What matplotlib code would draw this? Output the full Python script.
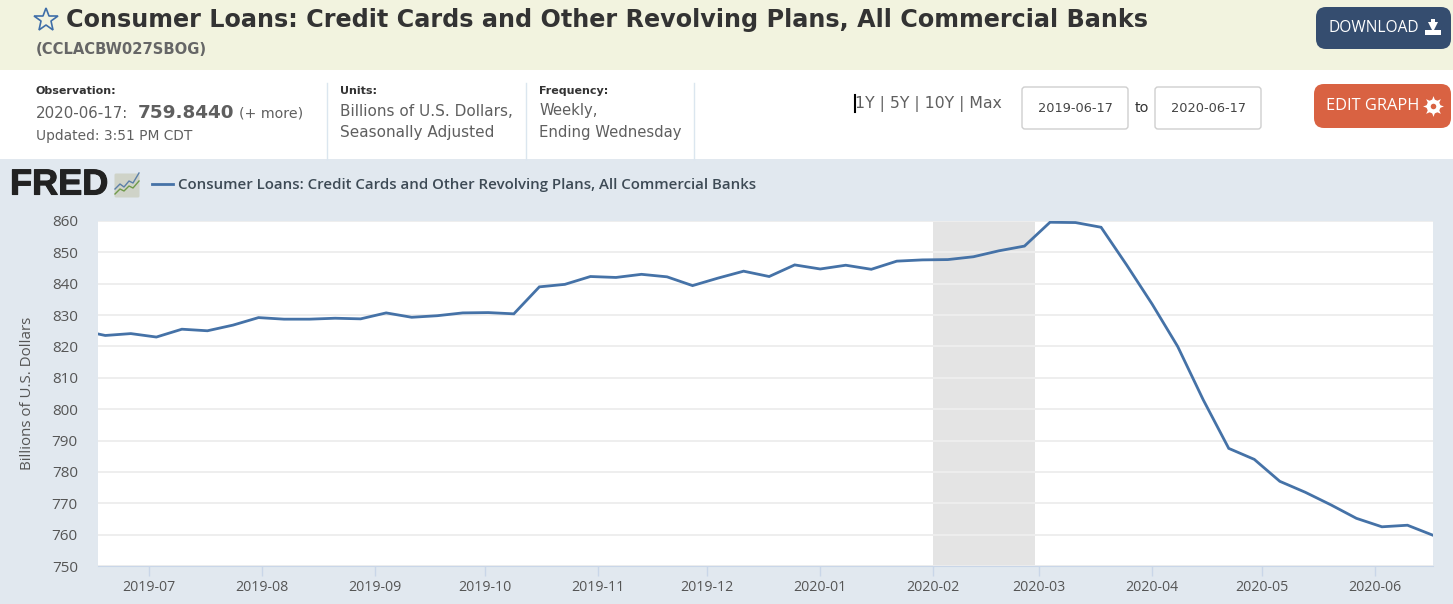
import numpy as np
import pandas as pd
import matplotlib
matplotlib.use('Agg')
import matplotlib.pyplot as plt
import matplotlib.dates as mdates
import matplotlib.patheffects as pe
from matplotlib.patches import FancyBboxPatch, Rectangle

# weekly values
dates = pd.date_range('2019-06-12', '2020-06-17', freq='7D')
values = [825.2, 823.5, 824.1, 823.0, 825.5, 825.0, 826.8, 829.2, 828.7, 828.7,
          829.0, 828.8, 830.7, 829.3, 829.8, 830.7, 830.8, 830.4, 839.0, 839.8,
          842.3, 842.0, 843.0, 842.2, 839.4, 841.8, 844.0, 842.3, 846.0, 844.7,
          845.9, 844.6, 847.2, 847.6, 847.7, 848.6, 850.5, 852.0, 859.6, 859.5,
          858.0, 846.0, 833.5, 820.0, 803.0, 787.5, 784.0, 777.0, 773.5, 769.5,
          765.2, 762.5, 763.0, 759.8]
recession = ['2020-02-01', '2020-02-29']
month_ticks = pd.date_range('2019-07-01', '2020-06-01', freq='MS')
y_ticks = list(range(750, 861, 10))
series_name = 'Consumer Loans: Credit Cards and Other Revolving Plans, All Commercial Banks'

W, H = 1453, 604
LINE = '#4572a7'
GREY = '#5f5f5f'

fig = plt.figure(figsize=(W / 100, H / 100), dpi=100, facecolor='white')

# page furniture, in pixel coordinates
bg = fig.add_axes([0, 0, 1, 1])
bg.set_xlim(0, W)
bg.set_ylim(H, 0)
bg.axis('off')
bg.add_patch(Rectangle((0, 0), W, 70, color='#f2f3df', lw=0))
bg.add_patch(Rectangle((0, 159), W, H - 159, color='#e1e8ef', lw=0))


def button(x, y, w, h, color, label, tx, size):
    bg.add_patch(FancyBboxPatch((x + 10, y + 10), w - 20, h - 20, boxstyle='round,pad=10',
                                fc=color, ec='none'))
    bg.text(tx, y + h / 2, label, color='white', fontsize=size, family='Open Sans',
            va='center', ha='left')


def date_box(x, label):
    bg.add_patch(FancyBboxPatch((x + 3, 90), 100, 36, boxstyle='round,pad=3',
                                fc='white', ec='#cfcfcf', lw=1))
    bg.text(x + 53, 108.5, label, color='#444444', fontsize=9.3, family='DejaVu Sans',
            ha='center', va='center')


bg.plot([46], [20], marker='*', ms=18, mfc='none', mec='#3f6ea8', mew=1.2)
bg.text(66, 20, 'Consumer Loans: Credit Cards and Other Revolving Plans, All Commercial Banks',
        fontsize=17.2, fontweight='bold', family='DejaVu Sans', color='#333333', va='center')
bg.text(36, 49, '(CCLACBW027SBOG)', fontsize=10.6, fontweight='bold', family='DejaVu Sans',
        color='#666666', va='center')

button(1316, 7, 135, 42, '#354d6f', 'DOWNLOAD', 1328, 11.2)
button(1314, 84, 137, 44, '#d96242', 'EDIT GRAPH', 1326, 11.8)
# download and gear icons
bg.add_patch(Rectangle((1431, 19), 4, 7, color='white', lw=0))
bg.plot([1433], [27], marker='v', ms=7, color='white', mew=0)
bg.add_patch(Rectangle((1425, 30), 16, 5, color='white', lw=0))
bg.plot([1433], [106], marker=(8, 1, 0), ms=15, color='white', mew=0)
bg.plot([1433], [106], marker='o', ms=10, color='white', mew=0)
bg.plot([1433], [106], marker='o', ms=4, color='#d96242', mew=0)

bg.text(36, 90.5, 'Observation:', fontsize=8, fontweight='bold', family='DejaVu Sans',
        color='#333333', va='center')
bg.text(36, 113, '2020-06-17:', fontsize=10.8, family='DejaVu Sans', color=GREY, va='center')
bg.text(138, 112.5, '759.8440', fontsize=13.2, fontweight='bold', family='DejaVu Sans',
        color=GREY, va='center')
bg.text(239, 113.5, '(+ more)', fontsize=10.2, family='DejaVu Sans', color=GREY, va='center')
bg.text(36, 136, 'Updated: 3:51 PM CDT', fontsize=9.95, family='DejaVu Sans', color=GREY, va='center')
bg.text(340, 90.5, 'Units:', fontsize=8, fontweight='bold', family='DejaVu Sans',
        color='#333333', va='center')
bg.text(340, 111, 'Billions of U.S. Dollars,', fontsize=10.95, family='DejaVu Sans', color=GREY, va='center')
bg.text(340, 132, 'Seasonally Adjusted', fontsize=10.95, family='DejaVu Sans', color=GREY, va='center')
bg.text(539, 90.5, 'Frequency:', fontsize=8, fontweight='bold', family='DejaVu Sans',
        color='#333333', va='center')
bg.text(539, 111, 'Weekly,', fontsize=10.75, family='DejaVu Sans', color=GREY, va='center')
bg.text(539, 132, 'Ending Wednesday', fontsize=10.75, family='DejaVu Sans', color=GREY, va='center')
for x in [327, 526, 694]:
    bg.plot([x, x], [83, 159], color='#dbe6ef', lw=1)

bg.plot([855, 855], [95, 112], color='black', lw=1.5)
bg.text(855, 104.5, '1Y | 5Y | 10Y | Max', fontsize=11.3, family='DejaVu Sans', color=GREY, va='center')
date_box(1022, '2019-06-17')
date_box(1155, '2020-06-17')
bg.text(1142, 108, 'to', fontsize=10.4, family='DejaVu Sans', color='#333333', ha='center', va='center')

# FRED logo and legend
logo = bg.text(10, 185, 'FRED', fontsize=26, fontweight='bold', family='Liberation Sans',
               color='#222222', va='center')
logo.set_path_effects([pe.withStroke(linewidth=0.8, foreground='#222222')])
bg.add_patch(FancyBboxPatch((116, 175), 22, 21, boxstyle='round,pad=1.5', fc='#cfd3c8', ec='none'))
bg.plot([115, 120, 124, 129, 133, 139], [189, 184, 187, 181, 183, 173], color='#5b7fa8', lw=1)
bg.plot([115, 120, 124, 129, 133, 139], [194, 189, 191, 186, 188, 181], color='#6f9a4a', lw=1)
bg.plot([152, 173], [184, 184], color=LINE, lw=2)
bg.text(178, 185, series_name, fontsize=10.78, fontweight='semibold', family='Open Sans',
        color='#3d4a55', va='center')

# chart area
ax = fig.add_axes([98 / W, 1 - 566 / H, (1433 - 98) / W, (566 - 221) / H])
ax.set_facecolor('white')
ax.axvspan(pd.Timestamp(recession[0]), pd.Timestamp(recession[1]), color='#e4e4e4', lw=0, zorder=1.5)
ax.plot(dates, values, color=LINE, lw=2, zorder=3, solid_joinstyle='miter')
ax.set_xlim(pd.Timestamp('2019-06-17'), pd.Timestamp('2020-06-17'))
ax.set_ylim(750, 860)

ax.set_yticks(y_ticks)
ax.set_xticks(month_ticks)
ax.xaxis.set_major_formatter(mdates.DateFormatter('%Y-%m'))
ax.grid(axis='y', color='#eeeeee', lw=1.4, zorder=1)
ax.tick_params(axis='y', length=0, pad=14.5, labelsize=11, labelcolor='#555555')
ax.tick_params(axis='x', length=7, width=1, color='#c9d6e8', pad=3, labelsize=10.2, labelcolor='#555555')
for lab in ax.get_xticklabels() + ax.get_yticklabels():
    lab.set_fontfamily('Open Sans')
for s in ['top', 'left', 'right']:
    ax.spines[s].set_visible(False)
ax.spines['bottom'].set_color('#c9d6e8')
ax.set_ylabel('Billions of U.S. Dollars', fontsize=10.9, family='Open Sans', color='#555555', labelpad=12)

plt.savefig('out.png', dpi=100, facecolor=fig.get_facecolor())
